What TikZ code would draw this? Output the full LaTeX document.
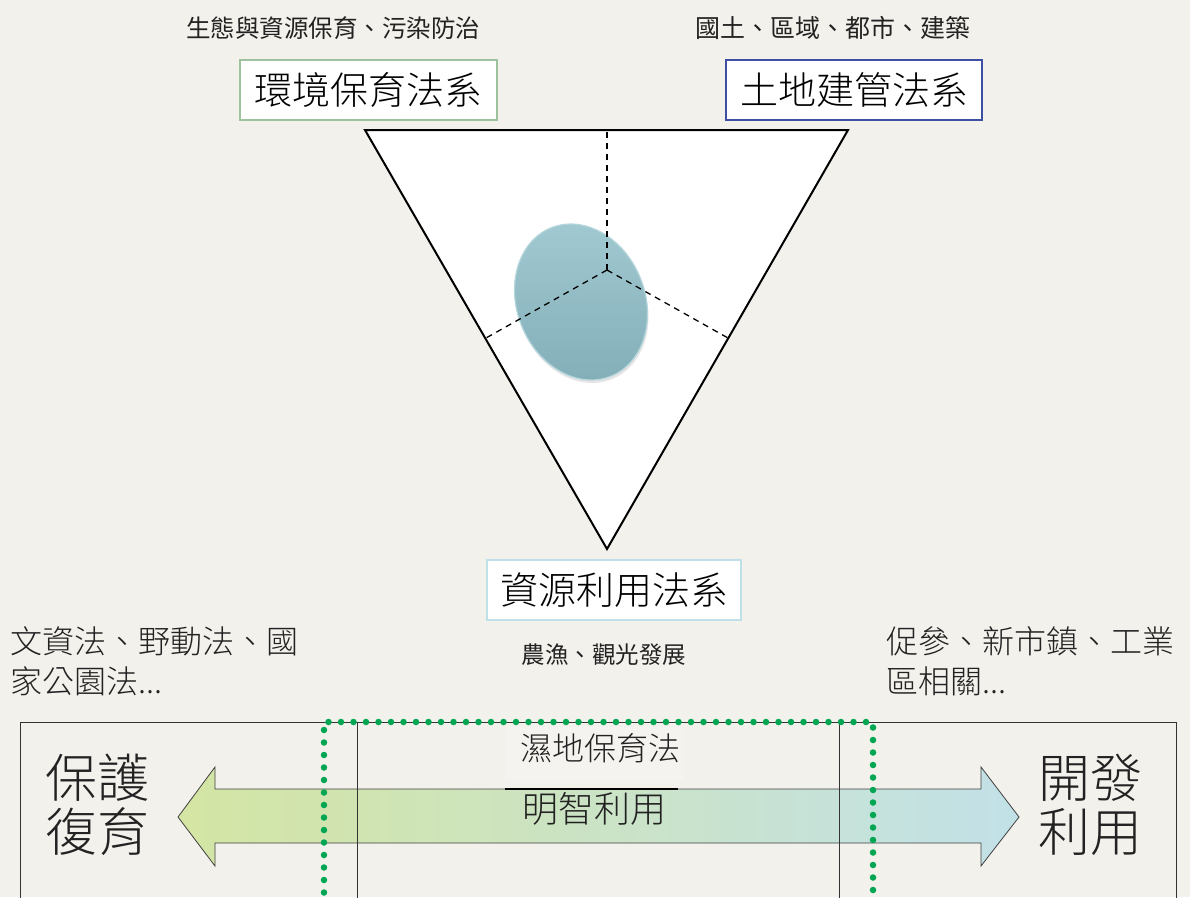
\documentclass[tikz,border=0pt]{standalone}
\usepackage{fontspec}
\setmainfont{Noto Sans CJK TC}
\newfontfamily\lightcjk{Noto Sans CJK TC Light}
\usetikzlibrary{shadows}
\definecolor{bg}{HTML}{F3F1EC}
\definecolor{txt}{HTML}{222222}
\definecolor{envgreen}{HTML}{9DC29D}
\definecolor{landblue}{HTML}{3F4FA3}
\definecolor{resblue}{HTML}{BFE0E8}
\definecolor{dotgreen}{HTML}{00A651}
\definecolor{discA}{HTML}{A2CAD2}
\definecolor{discB}{HTML}{82ADB7}
\definecolor{discE}{HTML}{B5D6DC}
\definecolor{arrL}{HTML}{D4E5A3}
\definecolor{arrM}{HTML}{CBE5C8}
\definecolor{arrR}{HTML}{C2E1E8}
\tikzset{
  lawbox/.style={draw, line width=2pt, fill=white, inner sep=0pt, minimum height=60pt,
    font=\lightcjk\fontsize{38}{40}\selectfont, text=black},
  smalllabel/.style={inner sep=0pt, text=txt},
  sidetext/.style={inner sep=0pt, align=left, font=\lightcjk\fontsize{32}{40}\selectfont, text=txt},
  bigword/.style={inner sep=0pt, align=center, font=\lightcjk\fontsize{52}{54}\selectfont, text=txt},
  midword/.style={inner sep=0pt, text=txt},
  tri/.style={draw=black, line width=2pt, fill=white, line join=miter},
  divider/.style={line width=1.3pt, dash pattern=on 6pt off 5pt},
  frameline/.style={draw=black!80, line width=1pt},
  greendots/.style={draw=dotgreen, line width=6.5pt, line cap=round, dash pattern=on 0pt off 12.5pt},
}
\begin{document}
\begin{tikzpicture}[x=1pt,y=-1pt]
\useasboundingbox (0,0) rectangle (1190,897);
\fill[bg] (0,0) rectangle (1190,897);
\clip (0,0) rectangle (1190,897);

% triangle
\coordinate (tl) at (365,130);
\coordinate (tr) at (848,130);
\coordinate (tb) at (607,549);
\coordinate (c) at (607,270);
\coordinate (dtop) at (607,130);
\coordinate (dleft) at (486,338);
\coordinate (dright) at (728,338);
\path[tri] (tl) -- (tr) -- (tb) -- cycle;

% disc
\shade[top color=discA, bottom color=discB, draw=discE, line width=1.2pt,
  drop shadow={shadow xshift=1pt, shadow yshift=-3pt, opacity=0.2},
  rotate around={22:(581,302)}] (581,302) ellipse [x radius=64pt, y radius=80pt];

% dashed dividers
\draw[divider] (c) -- (dtop);
\draw[divider] (c) -- (dleft);
\draw[divider] (c) -- (dright);

% top boxes and labels
\node[lawbox, draw=envgreen, minimum width=257pt] (env) at (368.5,90) {環境保育法系};
\node[lawbox, draw=landblue, minimum width=256pt] (land) at (854,90) {土地建管法系};
\node[lawbox, draw=resblue, minimum width=254pt] (res) at (614,590) {資源利用法系};
\node[smalllabel, font=\fontsize{24.5}{26}\selectfont] (envsub) at (333,28) {生態與資源保育、污染防治};
\node[smalllabel, font=\fontsize{25}{27}\selectfont] (landsub) at (833,28) {國土、區域、都市、建築};
\node[smalllabel, font=\fontsize{23.5}{25}\selectfont] (ressub) at (604,655) {農漁、觀光發展};

% side texts
\node[sidetext, anchor=north west] (lefttext) at (10,626) {文資法、野動法、國\\家公園法...};
\node[sidetext, anchor=north west] (righttext) at (886,626) {促參、新市鎮、工業\\區相關...};

% double arrow
\shade[left color=arrL, middle color=arrM, right color=arrR, draw=black!75, line width=0.8pt]
  (178,817) -- (215,767) -- (215,789) -- (981,789) -- (981,767) -- (1019,817)
  -- (981,866) -- (981,843) -- (215,843) -- (215,866) -- cycle;

% wetland text box
\fill[white, opacity=0.2] (505,727) rectangle (684,781);
\node[midword, font=\lightcjk\fontsize{32}{34}\selectfont] (wet) at (600,748) {濕地保育法};
\draw[black, line width=1.6pt] (505,789) -- (678,789);
\node[midword, font=\lightcjk\fontsize{36}{38}\selectfont] (wise) at (594,809) {明智利用};

% big words
\node[bigword] (protect) at (97,805) {保護\\復育};
\node[bigword] (develop) at (1090,805) {開發\\利用};

% frame lines
\coordinate (f1b) at (20,905);
\coordinate (f1t) at (20,722);
\coordinate (f4t) at (1176,722);
\coordinate (f4b) at (1176,905);
\draw[frameline] (f1b) -- (f1t) -- (f4t) -- (f4b);
\draw[frameline] (357,722) -- (357,905);
\draw[frameline] (839,722) -- (839,905);

% green dotted region
\coordinate (g1b) at (324,905);
\coordinate (g1t) at (324,722);
\coordinate (g2t) at (873,722);
\coordinate (g2b) at (873,905);
\draw[greendots] (g1b) -- (g1t) -- (g2t) -- (g2b);
\end{tikzpicture}
\end{document}
